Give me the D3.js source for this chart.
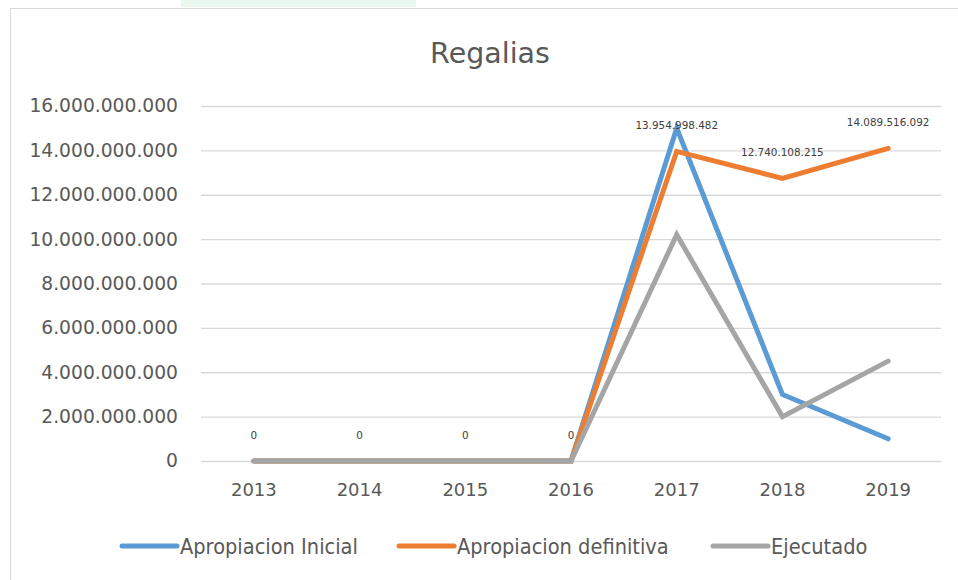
<!DOCTYPE html>
<html>
<head>
<meta charset="utf-8">
<script src="https://cdn.jsdelivr.net/npm/d3@7"></script>
<style>
  body { margin: 0; background: #fff; }
  text { font-family: "DejaVu Sans", sans-serif; }
</style>
</head>
<body>
<svg id="chart" width="958" height="580"></svg>
<script>
var years = ['2013', '2014', '2015', '2016', '2017', '2018', '2019']
var seriesNames = ['Apropiacion Inicial', 'Apropiacion definitiva', 'Ejecutado']
var inicial = [0, 0, 0, 0, 15000000000, 3000000000, 1000000000]
var definitiva = [0, 0, 0, 0, 13954998482, 12740108215, 14089516092]
var ejecutado = [0, 0, 0, 0, 10200000000, 2000000000, 4500000000]
var yTicks = [0, 2e9, 4e9, 6e9, 8e9, 10e9, 12e9, 14e9, 16e9]
var colors = ['#5B9BD5', '#ED7D31', '#A5A5A5']

var svg = d3.select('#chart')

// frame bits
svg.append('rect').attr('x', 181).attr('y', 0).attr('width', 235).attr('height', 7).attr('fill', '#E8F8EE')
svg.append('line').attr('x1', 10.5).attr('x2', 10.5).attr('y1', 8).attr('y2', 580).attr('stroke', '#D9D9D9')
svg.append('line').attr('x1', 10).attr('x2', 958).attr('y1', 8.5).attr('y2', 8.5).attr('stroke', '#D9D9D9')

var padding = {l: 201, r: 17, t: 106, b: 119}

var x = d3.scaleBand().domain(years).range([padding.l, 958 - padding.r])
var y = d3.scaleLinear().domain([0, 16e9]).range([580 - padding.b, padding.t])

// dots as thousand separators
var fmt = function(v) { return d3.format(',')(Math.round(v)).replace(/,/g, '.') }

// gridlines
svg.append('g').selectAll('line')
  .data(yTicks)
  .enter()
  .append('line')
  .attr('x1', padding.l).attr('x2', 958 - padding.r)
  .attr('y1', function(d){ return y(d) + 0.5 })
  .attr('y2', function(d){ return y(d) + 0.5 })
  .attr('stroke', '#D9D9D9').attr('stroke-width', 1.3)

var yAxis = svg.append('g')
  .attr('transform', 'translate(' + padding.l + ',0)')
  .call(d3.axisLeft(y).tickValues(yTicks).tickFormat(fmt).tickSize(0).tickPadding(23))
yAxis.select('.domain').remove()
yAxis.selectAll('text').style('font-size', '18.7px').attr('fill', '#595959').style('font-family', '"DejaVu Sans", sans-serif')

var xAxis = svg.append('g')
  .attr('transform', 'translate(0,' + (580 - padding.b) + ')')
  .call(d3.axisBottom(x).tickSize(0).tickPadding(22))
xAxis.select('.domain').remove()
xAxis.selectAll('text').style('font-size', '18px').attr('fill', '#595959').style('font-family', '"DejaVu Sans", sans-serif')

// title
svg.append('text')
  .attr('x', 490).attr('y', 63)
  .attr('text-anchor', 'middle')
  .style('font-size', '28.5px')
  .attr('fill', '#595959')
  .text('Regalias')

var line = d3.line()
  .x(function(d, i){ return x(years[i]) + x.bandwidth() / 2 })
  .y(function(d){ return y(d) })

var allSeries = [inicial, definitiva, ejecutado]
svg.append('g').selectAll('path')
  .data(allSeries)
  .enter()
  .append('path')
  .attr('d', line)
  .attr('fill', 'none')
  .attr('stroke', function(d, i){ return colors[i] })
  .attr('stroke-width', 5)
  .attr('stroke-linecap', 'round')
  .attr('stroke-linejoin', 'miter')

// data labels on apropiacion definitiva
svg.append('g').selectAll('text')
  .data(definitiva)
  .enter()
  .append('text')
  .attr('x', function(d, i){ return x(years[i]) + x.bandwidth() / 2 })
  .attr('y', function(d){ return y(d) - 22 })
  .attr('text-anchor', 'middle')
  .style('font-size', '10.4px')
  .attr('fill', '#404040')
  .text(fmt)

// legend
var legendX = [122, 399, 713]
var legend = svg.append('g').selectAll('g')
  .data(seriesNames)
  .enter()
  .append('g')
  .attr('transform', function(d, i){ return 'translate(' + legendX[i] + ',546)' })
legend.append('line')
  .attr('x1', 0).attr('x2', 55)
  .attr('stroke', function(d, i){ return colors[i] })
  .attr('stroke-width', 5).attr('stroke-linecap', 'round')
legend.append('text')
  .attr('x', 58).attr('y', 7.5)
  .style('font-size', '21.6px')
  .style('font-family', '"DejaVu Sans Condensed", "DejaVu Sans", sans-serif')
  .style('font-stretch', 'condensed')
  .attr('fill', '#595959')
  .text(function(d){ return d })
</script>
</body>
</html>
